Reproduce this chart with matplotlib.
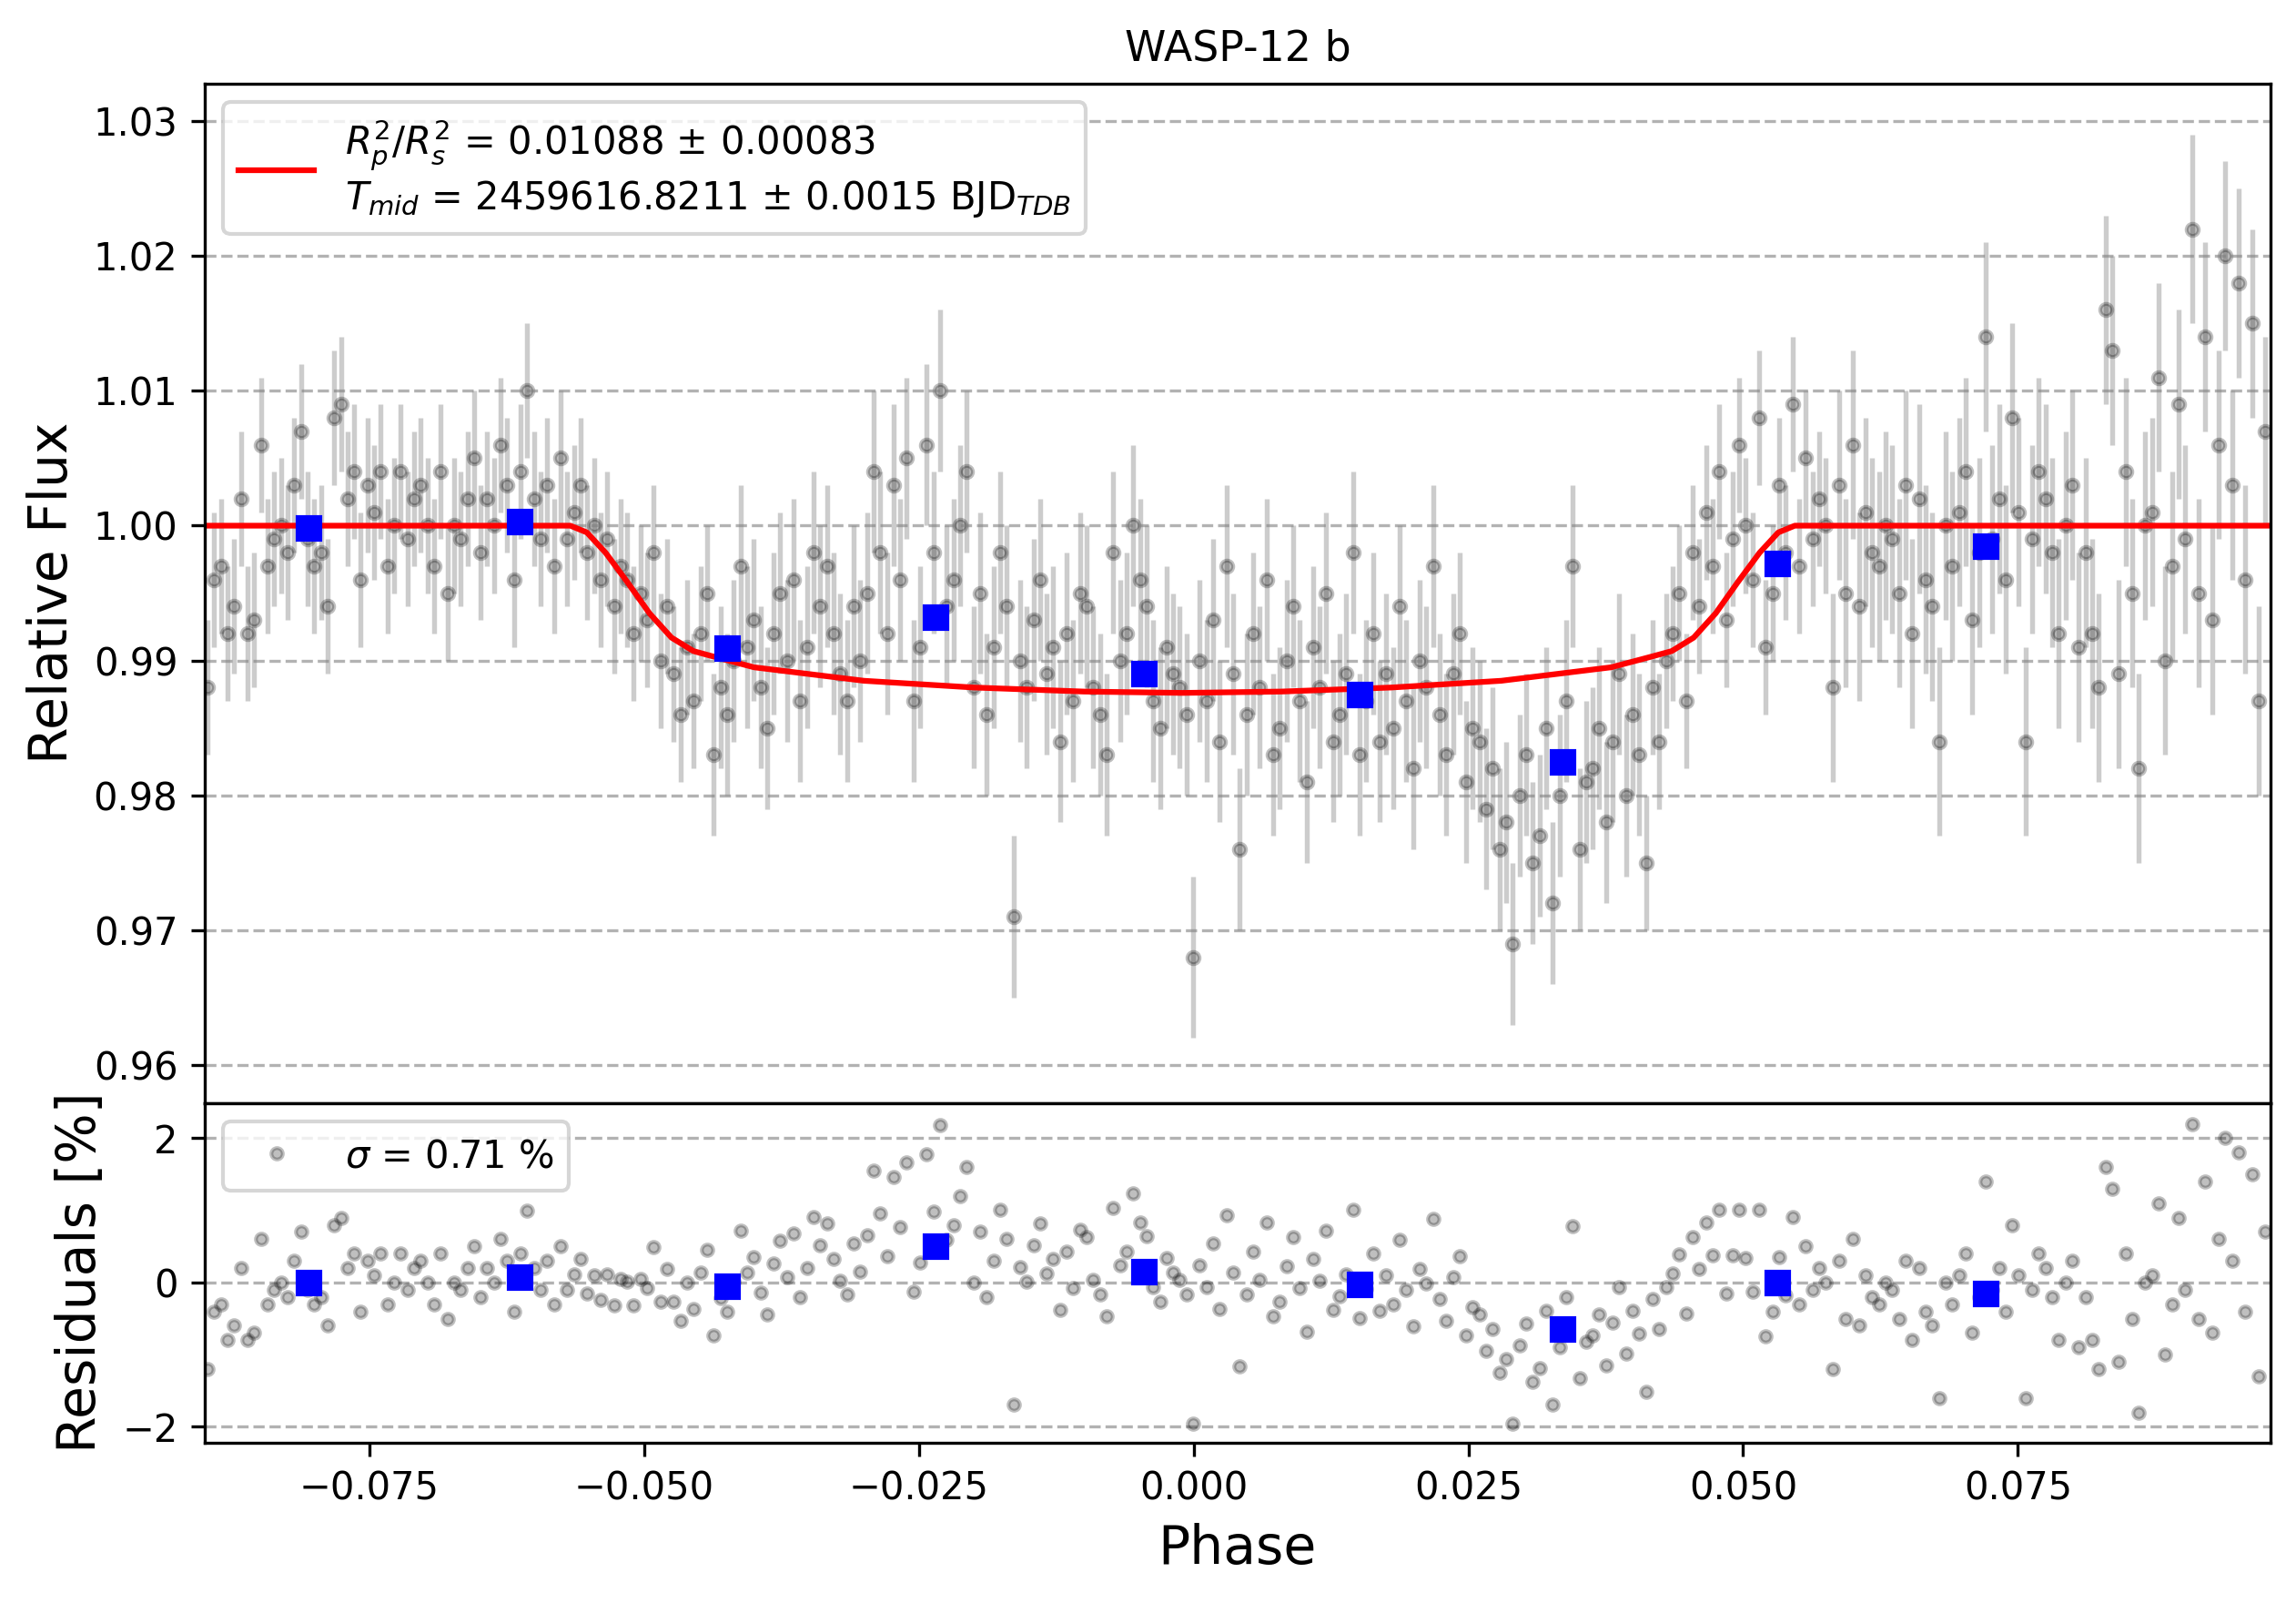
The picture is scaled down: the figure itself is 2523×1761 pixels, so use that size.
import numpy as np
import matplotlib.pyplot as plt

# flux deviations in parts per thousand, by segment of phase
seg1 = [-12,-4,-3,-8,-6,2,-8,-7,6,-3,-1,0,-2,3,7,-1,-3,-2,-6,8,
        9,2,4,-4,3,1,4,-3,0,4,-1,2,3,0,-3,4,-5,0,-1,2,
        5,-2,2,0,6,3,-4,4,10,2,-1,3,-3,5]
seg2 = [-1,1,3,-2,0,-4,-1,-6,-3,-4,-8,-5,-7,-2,-10,-6,-11,-14,-9,-13,-8,-5]
seg3 = [-17,-12,-14,-10,-3,-9,-7,-12,-15,-8,-5,-10,-4,-13,-9,-2,-6,-3,-8,-11,
        -13,-6,-10,-5,4,-2,-8,3,-4,5,-13,-9,6,-2,10,-6,-4,0,4,-12]
seg4 = [-5,-14,-9,-2,-6,-29,-10,-12,-7,-4,-11,-9,-16,-8,-13,-5,-6,-12,-14,-17,
        -2,-10,-8,0,-4,-6,-13,-15,-9,-11,-12,-14,-32]
seg5 = [-10,-13,-7,-16,-3,-11,-24,-14,-8,-12,-4,-17,-15,-10,-6,-13,-19,-9,-12,-5,
        -16,-14,-11,-2,-17,-13,-8,-16,-11,-15,-6,-13,-18,-10,-12,-3,-14,-17,-11,-8,-19,-15]
seg6 = [-16,-21,-18,-24,-22,-31,-20,-17,-25,-23,-15,-28,-20,-13,-3,-24,-19,-18,-15,-22,
        -16,-11,-20,-14,-17]
seg7 = [-25,-12,-16,-10,-8,-5,-13,-2,-6,1,-3,4,-7,-1,6,0,-4,8,-9,-5,
        3,-2,9,-3,5,-1,2,0]
seg8 = [-12,3,-5,6,-6,1,-2,-3,0,-1,-5,3,-8,2,-4,-6,-16,0,-3,1,
        4,-7,-2,14,-1,2,-4,8,1,-16,-1,4,2,-2,-8,0,3,-9,-2,-8,
        -12,16,13,-11,4,-5,-18,0,1,11,-10,-3,9,-1,22,-5,14,-7,6,20,
        3,18,-4,15,-13,7]
segs = [seg1, seg2, seg3, seg4, seg5, seg6, seg7, seg8]
seg_err = [5, 5, 6, 6, 6, 6, 5, 7]  # ppt

dflux = np.concatenate(segs)
flux = 1 + dflux / 1000
err = np.repeat(seg_err, [len(s) for s in segs]) / 1000
phase = np.linspace(-0.0897, 0.0975, len(flux))

model_phase = [-0.095,-0.0567,-0.0552,-0.0535,-0.0515,-0.0495,-0.0475,-0.0455,-0.0437,-0.04,-0.03,-0.02,
               -0.01,-0.001,0.008,0.018,0.028,0.038,0.0417,0.0435,0.0455,0.0475,0.0495,0.0515,0.0532,0.0547,0.1]
model_flux = [1,1,0.9995,0.998,0.9958,0.9935,0.9917,0.9907,0.9903,0.9895,0.9885,0.9880,
              0.9877,0.9876,0.9877,0.9880,0.9885,0.9895,0.9903,0.9907,0.9917,0.9935,0.9958,0.998,0.9995,1,1]

bin_phase = [-0.0805,-0.0613,-0.0424,-0.0235,-0.0045,0.0151,0.0336,0.0531,0.0721]
bin_flux = [0.9998,1.0003,0.9909,0.9932,0.9890,0.9875,0.9825,0.9972,0.9985]
bin_err = [0.0007,0.0007,0.0007,0.0009,0.0008,0.0007,0.0007,0.0008,0.0009]
bin_res = [0.0,0.07,-0.05,0.5,0.15,-0.03,-0.65,0.0,-0.15]

resid = (flux - np.interp(phase, model_phase, model_flux)) * 100

fig = plt.figure(figsize=(8.41, 5.87), dpi=300)
ax1 = fig.add_axes([0.089, 0.312, 0.90, 0.636])
ax2 = fig.add_axes([0.089, 0.100, 0.90, 0.212], sharex=ax1)

ax1.errorbar(phase, flux, yerr=err, fmt='none', ecolor='gray', alpha=0.4,
             elinewidth=1.3, zorder=1)
ax1.plot(phase, flux, 'o', color='black', ms=3.2, alpha=0.25, zorder=1.5)
ax1.errorbar(bin_phase, bin_flux, yerr=bin_err, fmt='s', color='blue', ms=6, zorder=3)
ax1.plot(model_phase, model_flux, color='red', lw=1.5, zorder=2,
         label='$R^2_p/R^2_s$ = 0.01088 ± 0.00083\n$T_{mid}$ = 2459616.8211 ± 0.0015 BJD$_{TDB}$')
ax1.set_ylim(0.9572, 1.0328)
ax1.set_yticks([0.96, 0.97, 0.98, 0.99, 1.00, 1.01, 1.02, 1.03])
ax1.grid(axis='y', ls='--', color='gray', alpha=0.6)
ax1.set_ylabel('Relative Flux', fontsize=14)
ax1.set_title('WASP-12 b', fontsize=11)
ax1.legend(loc='upper left', fontsize=10)
ax1.tick_params(labelbottom=False, labelsize=10)

ax2.plot(phase, resid, 'o', color='black', ms=3, alpha=0.25, label='$\\sigma$ = 0.71 %')
ax2.plot(bin_phase, bin_res, 's', color='blue', ms=6)
ax2.set_ylim(-2.22, 2.49)
ax2.set_yticks([-2, 0, 2])
ax2.grid(axis='y', ls='--', color='gray', alpha=0.6)
ax2.set_ylabel('Residuals [%]', fontsize=14)
ax2.set_xlabel('Phase', fontsize=14)
ax2.legend(loc='upper left', fontsize=10)
ax2.tick_params(labelsize=10)
ax2.set_xlim(-0.0900, 0.0980)

fig.savefig('out.png')
